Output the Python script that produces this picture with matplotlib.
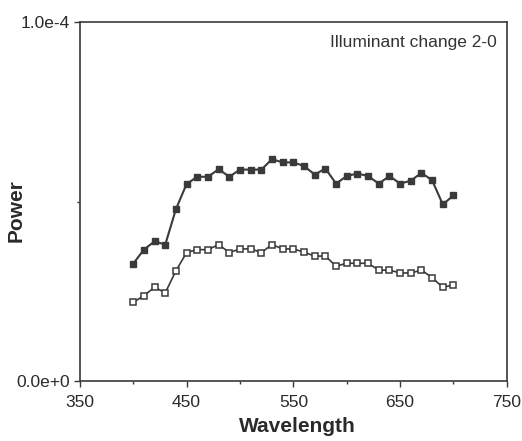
import matplotlib
matplotlib.use("Agg")
import matplotlib.pyplot as plt
from matplotlib.ticker import MultipleLocator

plt.rcParams['font.family'] = ['Liberation Sans', 'DejaVu Sans']

# wavelength (nm), 400..700
wavelength = [400, 410, 420, 430, 440, 450, 460, 470, 480, 490,
              500, 510, 520, 530, 540, 550, 560, 570, 580, 590,
              600, 610, 620, 630, 640, 650, 660, 670, 680, 690, 700]

# filled squares (values in units of 1e-4)
power_filled = [0.327, 0.366, 0.389, 0.380, 0.479, 0.549, 0.569, 0.569, 0.590, 0.569,
                0.589, 0.589, 0.589, 0.618, 0.609, 0.609, 0.599, 0.575, 0.592, 0.550,
                0.571, 0.578, 0.571, 0.550, 0.571, 0.550, 0.558, 0.580, 0.559, 0.492, 0.517]

# open squares
power_open = [0.219, 0.238, 0.261, 0.246, 0.307, 0.358, 0.366, 0.366, 0.380, 0.358,
              0.368, 0.368, 0.358, 0.380, 0.368, 0.368, 0.359, 0.348, 0.348, 0.320,
              0.328, 0.328, 0.328, 0.309, 0.309, 0.301, 0.301, 0.309, 0.288, 0.261, 0.268]

x_ticks = [350, 450, 550, 650, 750]
y_ticks = [0.0, 1.0e-4]
y_labels = ["0.0e+0", "1.0e-4"]

col = "#3a3a3a"

fig = plt.figure(figsize=(5.22, 4.41), dpi=100)
ax = fig.add_axes([0.153, 0.136, 0.818, 0.814])

ax.plot(wavelength, [v * 1e-4 for v in power_filled], color=col, lw=1.5,
        marker="s", ms=5, mfc=col, mec=col)
ax.plot(wavelength, [v * 1e-4 for v in power_open], color=col, lw=1.2,
        marker="s", ms=5, mfc="white", mec=col, mew=1.1)

ax.set_xlim(350, 750)
ax.set_ylim(0, 1.0e-4)
ax.set_xticks(x_ticks)
ax.xaxis.set_minor_locator(MultipleLocator(50))
ax.set_yticks(y_ticks)
ax.set_yticklabels(y_labels)
ax.yaxis.set_minor_locator(MultipleLocator(0.5e-4))

ax.tick_params(which="major", direction="out", length=4, width=1, colors=col,
               labelsize=12.5, labelcolor="#2a2a2a")
ax.tick_params(axis="x", which="major", pad=6)
ax.tick_params(axis="y", which="major", pad=3)
ax.tick_params(which="minor", direction="out", length=2.5, width=1, colors=col)

for s in ax.spines.values():
    s.set_color(col)
    s.set_linewidth(1.2)

ax.set_xlabel("Wavelength", fontsize=15, fontweight="bold", color="#2a2a2a")
ax.set_ylabel("Power", fontsize=15, fontweight="bold", color="#2a2a2a")
ax.xaxis.set_label_coords(0.51, -0.128)
ax.xaxis.label.set_verticalalignment("center")
ax.yaxis.set_label_coords(-0.15, 0.474)
ax.yaxis.label.set_verticalalignment("center")

ax.text(0.977, 0.942, "Illuminant change 2-0", transform=ax.transAxes,
        ha="right", va="center", fontsize=12.5, color="#333333")

fig.savefig("out.png", dpi=100)
